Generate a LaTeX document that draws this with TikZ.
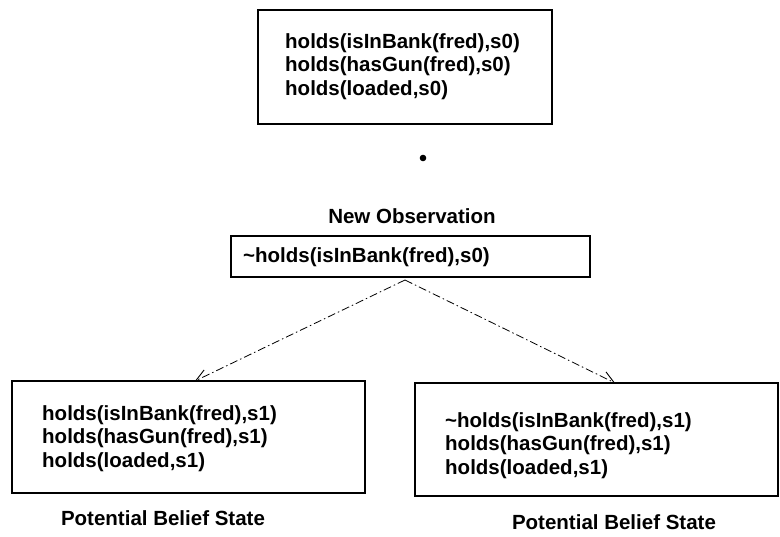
\documentclass[tikz,border=0pt]{standalone}
\usepackage{fontspec}
\setmainfont{Liberation Sans}
\usetikzlibrary{arrows.meta}
\begin{document}
\begin{tikzpicture}[x=1pt,y=-1pt,
  box/.style={draw,line width=1.2pt},
  facts/.style={anchor=north west,align=left,font=\bfseries\fontsize{20.5}{23.5}\selectfont,inner sep=0pt},
  caption/.style={font=\bfseries\fontsize{20.5}{23.5}\selectfont,inner sep=0pt},
  branch/.style={line width=0.8pt,dash pattern=on 8pt off 3pt on 1.5pt off 3pt,-{Straight Barb[length=12pt,width=12pt,line width=0.9pt]}}]
\useasboundingbox (0,0) rectangle (780,537);
% initial belief state
\draw[box] (258,10) rectangle (552,124);
\node[facts] (init) at (285,33) {holds(isInBank(fred),s0)\\holds(hasGun(fred),s0)\\holds(loaded,s0)};
\fill (423,158) circle (3.3pt);
% observation
\node[caption] (obslabel) at (412,216) {New Observation};
\draw[box] (231,236) rectangle (590,277);
\node[font=\bfseries\fontsize{20.5}{23.5}\selectfont,anchor=west,inner sep=0pt] (obs) at (243,257) {\textasciitilde holds(isInBank(fred),s0)};
\coordinate (split) at (405,280);
% two candidate belief states
\draw[box] (12,381) rectangle (365,493);
\node[facts] (left) at (42,405) {holds(isInBank(fred),s1)\\holds(hasGun(fred),s1)\\holds(loaded,s1)};
\draw[box] (415,383) rectangle (778,496);
\node[facts] (right) at (445,412) {\textasciitilde holds(isInBank(fred),s1)\\holds(hasGun(fred),s1)\\holds(loaded,s1)};
\coordinate (ltip) at (195,381);
\coordinate (rtip) at (615,383);
\draw[branch] (split) -- (ltip);
\draw[branch] (split) -- (rtip);
\node[caption] (lcap) at (163,518) {Potential Belief State};
\node[caption] (rcap) at (614,522) {Potential Belief State};
\end{tikzpicture}
\end{document}
